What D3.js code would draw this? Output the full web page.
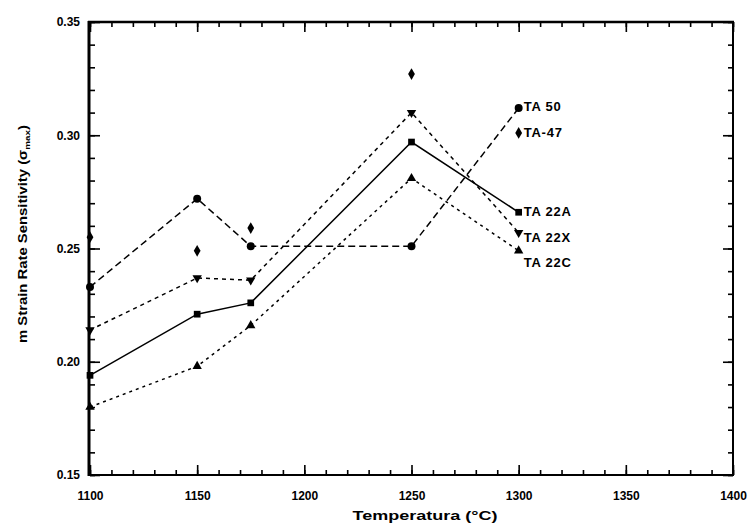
<!DOCTYPE html>
<html>
<head>
<meta charset="utf-8">
<script src="https://cdn.jsdelivr.net/npm/d3@7"></script>
<style>
  body { margin: 0; background: #fff; }
  svg { display: block; }
  text { font-family: "Liberation Sans", Arial, sans-serif; fill: #000; }
</style>
</head>
<body>
<div id="chart"></div>
<script>
// values
var temps = [1100, 1150, 1175, 1250, 1300];
var ta50  = [0.233, 0.272, 0.251, 0.251, 0.312];
var ta47  = [0.255, 0.249, 0.259, 0.327, 0.301];
var ta22A = [0.194, 0.221, 0.226, 0.297, 0.266];
var ta22X = [0.214, 0.237, 0.236, 0.310, 0.257];
var ta22C = [0.180, 0.198, 0.216, 0.281, 0.249];
var seriesNames = ["TA 50", "TA-47", "TA 22A", "TA 22X", "TA 22C"];

var xTicks = [1100, 1150, 1200, 1250, 1300, 1350, 1400];
var yTicks = [0.15, 0.20, 0.25, 0.30, 0.35];

// how each one is drawn
var styles = {
  "TA 50":  { dash: "7,4", line: true,  symbol: d3.symbolCircle,   size: 50, rot: 0,   labelDy: -2 },
  "TA-47":  { dash: null,  line: false, symbol: d3.symbolDiamond,  size: 40, rot: 0,   labelDy: -1 },
  "TA 22A": { dash: null,  line: true,  symbol: d3.symbolSquare,   size: 45, rot: 0,   labelDy: -1 },
  "TA 22X": { dash: "4,4", line: true,  symbol: d3.symbolTriangle, size: 38, rot: 180, labelDy: 5 },
  "TA 22C": { dash: "3,4", line: true,  symbol: d3.symbolTriangle, size: 38, rot: 0,   labelDy: 12 }
};

var values = [ta50, ta47, ta22A, ta22X, ta22C];
var series = seriesNames.map(function(name, i) {
  return { name: name, pts: temps.map(function(t, j) { return { t: t, v: values[i][j] }; }) };
});

var svg = d3.select("#chart").append("svg")
  .attr("width", 751).attr("height", 527);

var x = d3.scaleLinear().domain([1100, 1400]).range([90, 733]);
var y = d3.scaleLinear().domain([0.15, 0.35]).range([475, 22]);

var xMinor = d3.range(1100, 1401, 10);
var yMinor = d3.range(0.15, 0.3501, 0.01);

function styleAxis(g) {
  g.select(".domain").remove();
  g.selectAll(".tick line").attr("stroke", "#000").attr("stroke-width", 1.6);
  g.selectAll(".tick text").style("font-size", "12px").style("font-weight", "bold");
}

// minor ticks, inward on all four sides
svg.append("g").attr("transform", "translate(0,475)")
  .call(d3.axisBottom(x).tickValues(xMinor).tickSize(-5).tickFormat("")).call(styleAxis);
svg.append("g").attr("transform", "translate(0,22)")
  .call(d3.axisTop(x).tickValues(xMinor).tickSize(-5).tickFormat("")).call(styleAxis);
svg.append("g").attr("transform", "translate(90,0)")
  .call(d3.axisLeft(y).tickValues(yMinor).tickSize(-5).tickFormat("")).call(styleAxis);
svg.append("g").attr("transform", "translate(733,0)")
  .call(d3.axisRight(y).tickValues(yMinor).tickSize(-5).tickFormat("")).call(styleAxis);

// major ticks
svg.append("g").attr("transform", "translate(0,475)")
  .call(d3.axisBottom(x).tickValues(xTicks).tickSize(-10).tickPadding(16).tickFormat(d3.format("d")))
  .call(styleAxis);
svg.append("g").attr("transform", "translate(0,22)")
  .call(d3.axisTop(x).tickValues(xTicks).tickSize(-10).tickFormat("")).call(styleAxis);
svg.append("g").attr("transform", "translate(90,0)")
  .call(d3.axisLeft(y).tickValues(yTicks).tickSize(-10).tickPadding(10).tickFormat(d3.format(".2f")))
  .call(styleAxis);
svg.append("g").attr("transform", "translate(733,0)")
  .call(d3.axisRight(y).tickValues(yTicks).tickSize(-10).tickFormat("")).call(styleAxis);

// frame
var frame = svg.append("g").attr("stroke", "#000");
frame.append("line").attr("x1", 89).attr("x2", 89).attr("y1", 21).attr("y2", 476).attr("stroke-width", 3);
frame.append("line").attr("x1", 88).attr("x2", 734).attr("y1", 22).attr("y2", 22).attr("stroke-width", 2.5);
frame.append("line").attr("x1", 88).attr("x2", 734).attr("y1", 475).attr("y2", 475).attr("stroke-width", 2);
frame.append("line").attr("x1", 733).attr("x2", 733).attr("y1", 21).attr("y2", 476).attr("stroke-width", 2);

// lines
var line = d3.line().x(function(d) { return x(d.t); }).y(function(d) { return y(d.v); });

svg.append("g").selectAll("path")
  .data(series.filter(function(s) { return styles[s.name].line; }))
  .enter().append("path")
  .attr("d", function(s) { return line(s.pts); })
  .attr("fill", "none")
  .attr("stroke", "#000")
  .attr("stroke-width", 1.5)
  .attr("stroke-dasharray", function(s) { return styles[s.name].dash; });

// markers
series.forEach(function(s) {
  var st = styles[s.name];
  svg.append("g").selectAll("path").data(s.pts).enter().append("path")
    .attr("d", d3.symbol().type(st.symbol).size(st.size))
    .attr("transform", function(d) {
      return "translate(" + x(d.t) + "," + y(d.v) + ") rotate(" + st.rot + ")";
    })
    .attr("fill", "#000");
});

// labels next to the 1300 points
svg.append("g").selectAll("text").data(series).enter().append("text")
  .attr("x", function(s) { return x(s.pts[s.pts.length - 1].t) + 5; })
  .attr("y", function(s) { return y(s.pts[s.pts.length - 1].v) + styles[s.name].labelDy; })
  .attr("dy", "0.35em")
  .style("font-size", "13px")
  .style("font-weight", "bold")
  .style("letter-spacing", "0.8px")
  .text(function(s) { return s.name; });

// axis titles
svg.append("text")
  .attr("x", 425).attr("y", 520)
  .attr("text-anchor", "middle")
  .attr("textLength", 145).attr("lengthAdjust", "spacingAndGlyphs")
  .style("font-size", "13px").style("font-weight", "bold")
  .text("Temperatura (°C)");

var yt = svg.append("text")
  .attr("transform", "translate(27,234) rotate(-90)")
  .attr("text-anchor", "middle")
  .attr("textLength", 218).attr("lengthAdjust", "spacingAndGlyphs")
  .style("font-size", "12px").style("font-weight", "bold");
yt.append("tspan").text("m  Strain Rate Sensitivity (σ");
yt.append("tspan").attr("dy", 3).style("font-size", "8px").text("max");
yt.append("tspan").attr("dy", -3).text(")");
</script>
</body>
</html>
